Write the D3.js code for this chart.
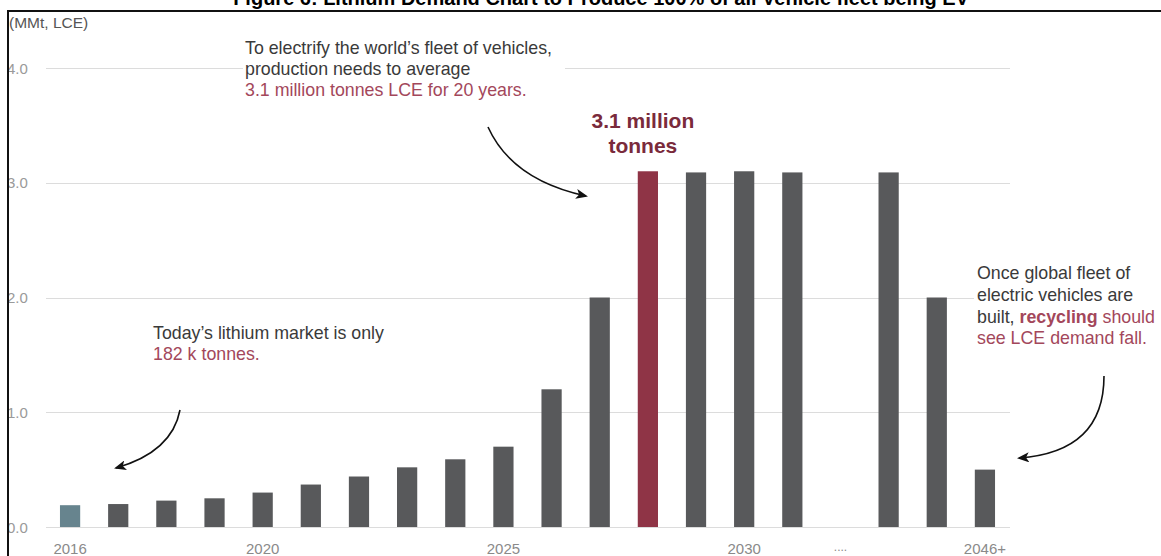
<!DOCTYPE html>
<html>
<head>
<meta charset="utf-8">
<script src="https://cdn.jsdelivr.net/npm/d3@7"></script>
<style>
  body { margin: 0; background: #fff; }
  svg { display: block; }
  .lbl { font-family: "Liberation Sans", Arial, sans-serif; }
</style>
</head>
<body>
<div id="chart"></div>
<script>
// data
var categories = ["2016", "2017", "2018", "2019", "2020", "2021", "2022", "2023", "2024", "2025",
                  "2026", "2027", "2028", "2029", "2030", "2031", "....", "2044", "2045", "2046+"];
var demand = [0.19, 0.20, 0.23, 0.25, 0.30, 0.37, 0.44, 0.52, 0.59, 0.70,
              1.20, 2.00, 3.10, 3.09, 3.10, 3.09, null, 3.09, 2.00, 0.50];
var tickLabels = ["2016", "2020", "2025", "2030", "....", "2046+"];
var yTicks = [0, 1, 2, 3, 4];
var todayYear = "2016";
var peakYear = "2028";

var W = 1161, H = 556;
var grey = "#58595b", red = "#8f3446", teal = "#67848e", pink = "#a3475b";

var svg = d3.select("#chart").append("svg")
    .attr("width", W).attr("height", H);

svg.append("defs").append("marker")
    .attr("id", "head")
    .attr("viewBox", "0 0 12 10")
    .attr("refX", 10).attr("refY", 5)
    .attr("markerWidth", 12).attr("markerHeight", 10)
    .attr("markerUnits", "userSpaceOnUse")
    .attr("orient", "auto")
  .append("path")
    .attr("d", "M0,0 L12,5 L0,10 L3,5 z")
    .attr("fill", "#111");

svg.append("clipPath").attr("id", "frameClip")
  .append("rect").attr("x", 9).attr("y", 12).attr("width", W).attr("height", H);

// title, mostly cut off at the top of the picture
svg.append("text")
    .attr("x", 601).attr("y", 5)
    .attr("text-anchor", "middle")
    .style("font-family", "Liberation Sans, Arial, sans-serif")
    .style("font-weight", "bold")
    .style("font-size", "20px")
    .text("Figure 6: Lithium Demand Chart to Produce 100% of all Vehicle fleet being EV");

var g = svg.append("g").attr("clip-path", "url(#frameClip)");

var x = d3.scaleBand()
    .domain(categories)
    .range([46, 1009])
    .paddingInner(0.58)
    .paddingOuter(0.29);

var y = d3.scaleLinear()
    .domain([0, 4])
    .range([527, 68]);

// gridlines
g.selectAll("line.grid")
    .data(yTicks)
  .enter().append("line")
    .attr("class", "grid")
    .attr("x1", 46).attr("x2", 1010)
    .attr("y1", function (d) { return Math.round(y(d)) + 0.5; })
    .attr("y2", function (d) { return Math.round(y(d)) + 0.5; })
    .attr("stroke", "#dcdcdc")
    .attr("stroke-width", 1.2);

// y labels
g.selectAll("text.ytick")
    .data(yTicks)
  .enter().append("text")
    .attr("class", "ytick lbl")
    .attr("x", 7)
    .attr("y", function (d) { return y(d) + 5.5; })
    .attr("fill", "#9a9a9a")
    .style("font-size", "15px")
    .text(function (d) { return d.toFixed(1); });

g.append("text")
    .attr("class", "lbl")
    .attr("x", 9).attr("y", 28)
    .attr("fill", "#555")
    .style("font-size", "15.5px")
    .text("(MMt, LCE)");

// bars
var rows = categories.map(function (c, i) { return { cat: c, v: demand[i] }; })
    .filter(function (d) { return d.v != null; });

g.selectAll("rect.bar")
    .data(rows)
  .enter().append("rect")
    .attr("class", "bar")
    .attr("x", function (d) { return x(d.cat); })
    .attr("width", x.bandwidth())
    .attr("y", function (d) { return y(d.v); })
    .attr("height", function (d) { return y(0) - y(d.v); })
    .attr("fill", function (d) {
        if (d.cat === todayYear) return teal;
        if (d.cat === peakYear) return red;
        return grey;
    });

// x axis labels
var xAxis = d3.axisBottom(x).tickValues(tickLabels).tickSize(0).tickPadding(0);
var ax = g.append("g")
    .attr("transform", "translate(0," + (y(0) + 13) + ")")
    .call(xAxis);
ax.select(".domain").remove();
ax.selectAll("text")
    .attr("class", "lbl")
    .attr("dy", "0.9em")
    .attr("fill", "#8a8a8a")
    .style("font-size", "15px");
ax.selectAll("text").filter(function (d) { return d === "...."; })
    .attr("dy", "0.95em").style("font-size", "12px");

// annotations
function block(lines, x0, y0, lh, size, bg) {
    if (bg) {
        g.append("rect")
            .attr("x", bg[0]).attr("y", bg[1]).attr("width", bg[2]).attr("height", bg[3])
            .attr("fill", "#fff");
    }
    var t = g.append("text").attr("class", "lbl").style("font-size", size + "px");
    lines.forEach(function (ln, i) {
        var first = true;
        ln.forEach(function (part) {
            var s = t.append("tspan").text(part.t).attr("fill", part.c);
            if (part.b) s.style("font-weight", "bold");
            if (first) { s.attr("x", x0).attr("y", y0 + i * lh); first = false; }
        });
    });
}

block([
    [{ t: "To electrify the world\u2019s fleet of vehicles,", c: "#3a3a3a" }],
    [{ t: "production needs to average", c: "#3a3a3a" }],
    [{ t: "3.1 million tonnes LCE for 20 years.", c: pink }]
], 245, 54, 20.8, 17.8, [243, 36, 322, 64]);

block([
    [{ t: "Today\u2019s lithium market is only", c: "#3a3a3a" }],
    [{ t: "182 k tonnes.", c: pink }]
], 153, 339, 21, 17.8);

block([
    [{ t: "Once global fleet of", c: "#3a3a3a" }],
    [{ t: "electric vehicles are", c: "#3a3a3a" }],
    [{ t: "built, ", c: "#3a3a3a" }, { t: "recycling", c: pink, b: true }, { t: " should", c: pink }],
    [{ t: "see LCE demand fall.", c: pink }]
], 977, 279, 21.8, 17.8, [974, 260, 190, 90]);

var peak = g.append("text").attr("class", "lbl")
    .attr("text-anchor", "middle")
    .attr("fill", "#7a2a3b")
    .style("font-size", "21px").style("font-weight", "bold");
peak.append("tspan").attr("x", x(peakYear) + x.bandwidth() / 2 - 5).attr("y", 128).text("3.1 million");
peak.append("tspan").attr("x", x(peakYear) + x.bandwidth() / 2 - 5).attr("y", 153).text("tonnes");

var arrows = [
    "M488,127 Q512,180 586,196",
    "M180,410 Q172,452 116,468",
    "M1104,376 Q1104,452 1019,458"
];
g.selectAll("path.arrow")
    .data(arrows)
  .enter().append("path")
    .attr("class", "arrow")
    .attr("d", function (d) { return d; })
    .attr("fill", "none")
    .attr("stroke", "#111")
    .attr("stroke-width", 1.6)
    .attr("marker-end", "url(#head)");

// frame
svg.append("line").attr("x1", 8).attr("x2", W).attr("y1", 11).attr("y2", 11)
    .attr("stroke", "#111").attr("stroke-width", 2);
svg.append("line").attr("x1", 8).attr("x2", 8).attr("y1", 10).attr("y2", H)
    .attr("stroke", "#111").attr("stroke-width", 2);
</script>
</body>
</html>
